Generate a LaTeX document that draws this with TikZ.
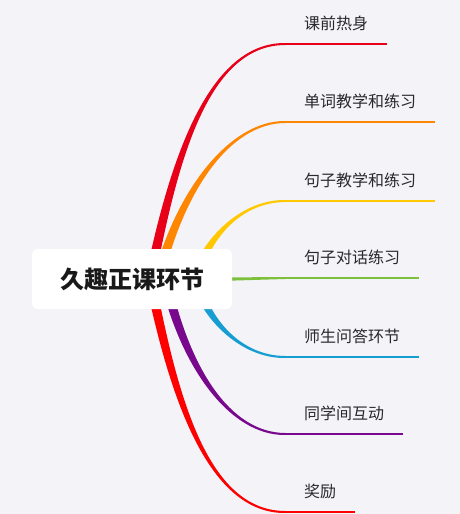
\documentclass[tikz,border=0pt]{standalone}
\usepackage{fontspec}
\setmainfont{Noto Sans CJK SC}
\usepackage{tikz}
\usetikzlibrary{backgrounds}
\definecolor{Fond}{RGB}{243,243,248}
\definecolor{Rouge}{RGB}{232,0,24}
\definecolor{RougeVif}{RGB}{255,0,0}
\definecolor{Orange}{RGB}{255,134,0}
\definecolor{Jaune}{RGB}{255,200,0}
\definecolor{Vert}{RGB}{125,192,60}
\definecolor{Bleu}{RGB}{22,158,210}
\definecolor{Violet}{RGB}{120,8,140}
\definecolor{Texte}{RGB}{40,40,45}
\tikzset{
Racine/.style={
 fill=white, 
 rounded corners=6pt, 
 minimum width=200pt, 
 minimum height=60pt, 
 inner sep=0pt, 
 text=black!90, 
 font=\fontsize{24}{28}\selectfont\bfseries
 },
Etiquette/.style={
 anchor=base west, 
 yshift=15pt, 
 inner xsep=19pt, 
 inner ysep=0pt, 
 text=Texte, 
 font=\fontsize{16}{19}\selectfont
 },
Souligne/.style={
 line width=2pt
 }
}

\begin{document}
\begin{tikzpicture}[x=1pt,y=-1pt]
\useasboundingbox (0,0) rectangle (460,514);
\node[Racine] (racine) at (132,279) {久趣正课环节};
\coordinate (f1) at (285,44);
\coordinate (f2) at (285,122);
\coordinate (f3) at (285,201);
\coordinate (f4) at (285,278);
\coordinate (f5) at (285,357);
\coordinate (f6) at (285,434);
\coordinate (f7) at (285,512);
\node[Etiquette] (e1) at (f1) {课前热身};
\node[Etiquette] (e2) at (f2) {单词教学和练习};
\node[Etiquette] (e3) at (f3) {句子教学和练习};
\node[Etiquette] (e4) at (f4) {句子对话练习};
\node[Etiquette] (e5) at (f5) {师生问答环节};
\node[Etiquette] (e6) at (f6) {同学间互动};
\node[Etiquette] (e7) at (f7) {奖励};
\begin{scope}[on background layer]
\fill[Fond] (0,0) rectangle (460,514);
% branches effilees
\foreach \n/\coul/\dx/\cx/\cy/\kx/\s in {1/Rouge/18/172/170/80/1, 2/Orange/26/180/190/55/1, 3/Jaune/63/205/240/45/1, 5/Bleu/63/205/318/45/-1, 6/Violet/33/185/368/55/-1, 7/RougeVif/18/172/388/80/-1}
 \fill[\coul] ([xshift=\dx-5]racine.center) .. controls (\cx-4.3,\cy) and ([xshift=-\kx,yshift=1.4*\s]f\n) .. ([yshift=\s]f\n) -- ([yshift=-\s]f\n) .. controls ([xshift=-\kx,yshift=-1.4*\s]f\n) and (\cx+4.3,\cy) .. ([xshift=\dx+5]racine.center) -- cycle;
\fill[Vert] ([yshift=1.6]racine.east) -- ([yshift=1]f4) -- ([yshift=-1]f4) -- ([yshift=-1.6]racine.east) -- cycle;
\foreach \n/\coul in {1/Rouge, 2/Orange, 3/Jaune, 4/Vert, 5/Bleu, 6/Violet, 7/RougeVif}
 \draw[Souligne,\coul] (f\n) -- (f\n -| e\n.east);
\end{scope}
\end{tikzpicture}
\end{document}
